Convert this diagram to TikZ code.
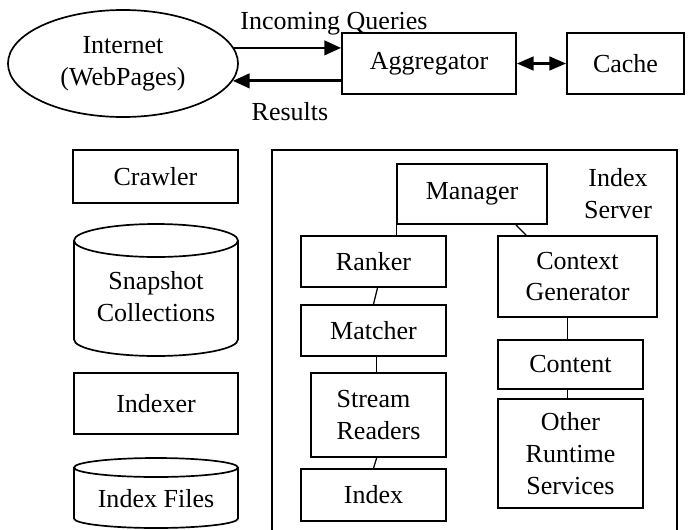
\documentclass[tikz,border=0pt]{standalone}
\usepackage{fontspec}
\setmainfont{Liberation Serif}
\usetikzlibrary{shapes.geometric, arrows.meta, calc}
\tikzstyle{box}=[draw, line width=1.2pt, inner sep=0pt, align=center]
\tikzstyle{link}=[line width=0.9pt]
\tikzstyle{flow}=[line width=2pt, -{Triangle[length=4.2mm, width=3.6mm]}]
\tikzstyle{store}=[line width=1.2pt]

\begin{document}
\begin{tikzpicture}[x=0.025cm, y=-0.025cm, font=\fontsize{18.5}{22.7}\selectfont]
  \useasboundingbox (0,0) rectangle (692,529);

  \node[ellipse, draw, line width=1.2pt, inner sep=0pt, minimum width=5.75cm, minimum height=2.675cm, align=center] (inet) at (123,63.5) {Internet\\(WebPages)};
  \node[box, minimum width=4.35cm, minimum height=1.525cm] (aggr) at (429,63.5) {Aggregator};
  \node[box, minimum width=2.925cm, minimum height=1.525cm] (cache) at (625.5,63.5) {Cache};
  \node (queries) at (334,24) {Incoming Queries};
  \node (results) at (290,112) {Results};

  \draw[flow] (inet.8) -- (inet.8 -| aggr.west);
  \draw[flow] (inet.-9 -| aggr.west) -- (inet.-9);
  \draw[line width=2pt, {Triangle[length=4.2mm, width=3.4mm]}-{Triangle[length=4.2mm, width=3.4mm]}] (aggr.east) -- (cache.west);

  \node[box, minimum width=4.125cm, minimum height=1.325cm] (crawler) at (155.5,176.5) {Crawler};
  \draw[store] (156,240.5) ellipse [x radius=82, y radius=16.5];
  \draw[store] (74,240.5) -- (74,339.5) arc[start angle=180, end angle=0, x radius=82, y radius=16.5] -- (238,240.5);
  \node[align=center] (snapshot) at (156,297) {Snapshot\\Collections};
  \node[box, minimum width=4.1cm, minimum height=1.525cm] (indexer) at (156,403.5) {Indexer};
  \draw[store] (156,467.5) ellipse [x radius=82, y radius=9.5];
  \draw[store] (74,467.5) -- (74,518.5) arc[start angle=180, end angle=0, x radius=82, y radius=9.5] -- (238,467.5);
  \node (files) at (156,499) {Index Files};

  \node[box, minimum width=10.125cm, minimum height=9.625cm] (server) at (474.5,342.5) {};
  \node[align=center] (serverlabel) at (618,194) {Index\\Server};
  \node[box, minimum width=3.75cm, minimum height=1.5cm] (manager) at (472,194) {Manager};
  \node[box, minimum width=3.625cm, minimum height=1.275cm] (ranker) at (373.5,261.5) {Ranker};
  \node[box, minimum width=3.625cm, minimum height=1.275cm] (matcher) at (373.5,330.5) {Matcher};
  \node[box, minimum width=3.375cm, minimum height=2.1cm, align=left] (stream) at (378.5,415) {Stream\\Readers};
  \node[box, minimum width=3.625cm, minimum height=1.3cm] (index) at (373.5,495) {Index};
  \node[box, minimum width=3.975cm, minimum height=2.025cm] (context) at (577.5,276.5) {Context\\Generator};
  \node[box, minimum width=3.625cm, minimum height=1.225cm] (content) at (570.5,364.5) {Content};
  \node[box, minimum width=3.625cm, minimum height=2.725cm] (other) at (570.5,453.5) {Other\\Runtime\\Services};

  \draw[link] (manager.south west) -- (manager.south west |- ranker.north);
  \draw[link] ($(manager.south east)!0.21!(manager.south west)$) -- ($(context.north west)!0.18!(context.north east)$);
  \draw[link] ([xshift=0.1cm]ranker.south) -- (matcher.north);
  \draw[link] ([xshift=0.08cm]matcher.south) -- ([xshift=0.08cm]matcher.south |- stream.north);
  \draw[link] ([xshift=0.08cm]index.north |- stream.south) -- (index.north);
  \draw[link] ([xshift=-0.08cm]content.north |- context.south) -- ([xshift=-0.08cm]content.north);
  \draw[link] ([xshift=-0.08cm]content.south) -- ([xshift=-0.08cm]other.north);
\end{tikzpicture}
\end{document}
